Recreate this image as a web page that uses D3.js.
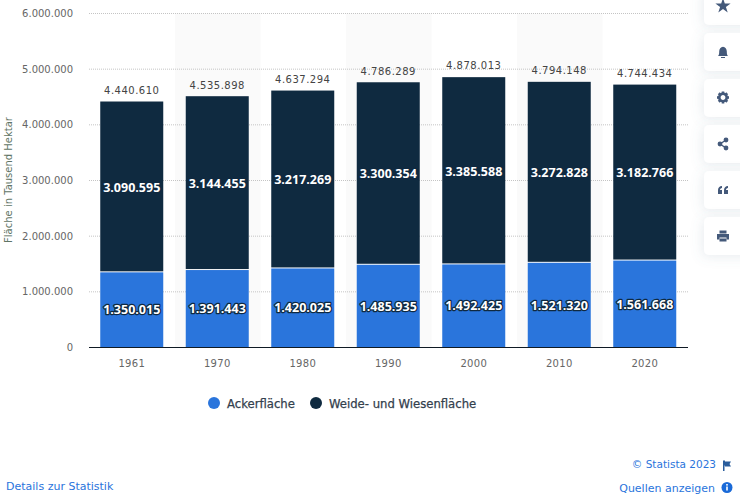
<!doctype html>
<html>
<head>
<meta charset="utf-8">
<title>Ackerfläche und Weidefläche</title>
<script src="https://d3js.org/d3.v7.min.js"></script>
<style>
  body { margin: 0; background: #fff; font-family: "DejaVu Sans", sans-serif; }
  svg { display: block; }
  .tick-label { font-size: 10px; fill: #666; }
  .total { font-size: 10px; fill: #444; letter-spacing: .5px; text-anchor: middle; }
  .inner { font-family: "Open Sans", sans-serif; font-size: 12.5px; font-weight: 700; fill: #fff; text-anchor: middle; paint-order: stroke; stroke: #0f2940; stroke-width: 2.5px; stroke-linejoin: round; }
  .legend { font-size: 11.65px; fill: #33404d; stroke: #33404d; stroke-width: .25px; }
  .link { font-size: 11px; fill: #2a74dc; }
</style>
</head>
<body>
<div id="chart"></div>
<script>
const years = ["1961", "1970", "1980", "1990", "2000", "2010", "2020"];
const acker = [1350015, 1391443, 1420025, 1485935, 1492425, 1521320, 1561668];
const weide = [3090595, 3144455, 3217269, 3300354, 3385588, 3272828, 3182766];
const totals = [4440610, 4535898, 4637294, 4786289, 4878013, 4794148, 4744434];
const yTicks = [0, 1000000, 2000000, 3000000, 4000000, 5000000, 6000000];
const legendItems = ["Ackerfläche", "Weide- und Wiesenfläche"];

const blue = "#2a75dc", navy = "#0f2a40";
const fmt = v => d3.format(",")(v).replace(/,/g, ".");

const svg = d3.select("#chart").append("svg").attr("width", 740).attr("height", 501);

const x = d3.scaleBand().domain(years).range([89.5, 688]);
const y = d3.scaleLinear().domain([0, 6000000]).range([347.5, 13.5]);
const barW = 63;
const barX = d => x(d) + (x.bandwidth() - barW) / 2 - 0.5;

// alternating background stripes
svg.selectAll("rect.stripe").data(years.filter((d, i) => i % 2 == 1)).enter().append("rect")
  .attr("class", "stripe")
  .attr("x", d => x(d)).attr("width", x.bandwidth())
  .attr("y", y(6000000)).attr("height", y(0) - y(6000000))
  .attr("fill", "#fafafa");

// grid
svg.selectAll("line.grid").data(yTicks.slice(1)).enter().append("line")
  .attr("class", "grid")
  .attr("x1", 89).attr("x2", 688)
  .attr("y1", d => y(d)).attr("y2", d => y(d))
  .attr("stroke", "#c4c4c4").attr("stroke-dasharray", "1 1");

svg.selectAll("text.ylab").data(yTicks).enter().append("text")
  .attr("class", "tick-label ylab")
  .attr("x", 73).attr("y", d => y(d) + 0.5)
  .attr("dominant-baseline", "middle").attr("text-anchor", "end")
  .text(fmt);

svg.append("text").attr("class", "tick-label")
  .attr("transform", "translate(12,180) rotate(-90)")
  .attr("text-anchor", "middle")
  .style("fill", "#5f7566")
  .text("Fläche in Tausend Hektar");

// bars, the navy part starts a bit under its value like the white border in the original
svg.selectAll("rect.weide").data(years).enter().append("rect")
  .attr("class", "weide")
  .attr("x", barX).attr("width", barW)
  .attr("y", (d, i) => y(acker[i] + weide[i]) + 1.2)
  .attr("height", (d, i) => y(acker[i]) - y(acker[i] + weide[i]) - 2.2)
  .attr("fill", navy);
svg.selectAll("rect.acker").data(years).enter().append("rect")
  .attr("class", "acker")
  .attr("x", barX).attr("width", barW)
  .attr("y", (d, i) => y(acker[i]))
  .attr("height", (d, i) => y(0) - y(acker[i]))
  .attr("fill", blue);

// baseline
svg.append("line").attr("x1", 89).attr("x2", 688)
  .attr("y1", y(0)).attr("y2", y(0))
  .attr("stroke", "#0f1a24").attr("stroke-width", 1);

svg.selectAll("text.xlab").data(years).enter().append("text")
  .attr("class", "tick-label xlab")
  .attr("x", d => barX(d) + barW / 2).attr("y", 367)
  .attr("text-anchor", "middle")
  .style("letter-spacing", ".3px")
  .text(d => d);

// data labels
svg.selectAll("text.total").data(years).enter().append("text")
  .attr("class", "total")
  .attr("x", d => barX(d) + barW / 2)
  .attr("y", (d, i) => y(totals[i]) - 6.5)
  .text((d, i) => fmt(totals[i]));
svg.selectAll("text.lw").data(years).enter().append("text")
  .attr("class", "inner lw")
  .attr("x", d => barX(d) + barW / 2)
  .attr("y", (d, i) => (y(acker[i]) + y(acker[i] + weide[i])) / 2 + 5.5)
  .text((d, i) => fmt(weide[i]));
svg.selectAll("text.la").data(years).enter().append("text")
  .attr("class", "inner la")
  .attr("x", d => barX(d) + barW / 2)
  .attr("y", (d, i) => (y(0) + y(acker[i])) / 2 + 4.5)
  .text((d, i) => fmt(acker[i]));

// legend
const legendX = [214, 316], legendColors = [blue, navy];
legendItems.forEach((t, i) => {
  svg.append("circle").attr("cx", legendX[i]).attr("cy", 403).attr("r", 6).attr("fill", legendColors[i]);
  svg.append("text").attr("class", "legend").attr("x", legendX[i] + 13).attr("y", 407.5).text(t);
});

// footer
svg.append("text").attr("class", "link").style("font-size", "10.5px").attr("x", 716).attr("y", 467.5).attr("text-anchor", "end").text("© Statista 2023");
svg.append("path").attr("d", "M723 460.5h2v1h6l-1.5 2.5 1.5 2.5h-6v-1h-.5v5.5h-1.5z").attr("fill", "#2a5d9c");
svg.append("text").attr("class", "link").attr("x", 715).attr("y", 491.5).attr("text-anchor", "end").text("Quellen anzeigen");
svg.append("circle").attr("cx", 727).attr("cy", 487.5).attr("r", 5.5).attr("fill", "#1a6ad8");
svg.append("rect").attr("x", 726.2).attr("y", 486.5).attr("width", 1.6).attr("height", 4).attr("fill", "#fff");
svg.append("rect").attr("x", 726.2).attr("y", 484).attr("width", 1.6).attr("height", 1.6).attr("fill", "#fff");
svg.append("text").attr("class", "link").attr("x", 6).attr("y", 489.5).text("Details zur Statistik");

// side buttons
const defs = svg.append("defs");
const shadow = defs.append("filter").attr("id", "btn").attr("x", "-50%").attr("y", "-50%").attr("width", "200%").attr("height", "200%");
shadow.append("feDropShadow").attr("dx", -2).attr("dy", 2).attr("stdDeviation", 6).attr("flood-color", "#6b7f99").attr("flood-opacity", .14);
const btnY = [-13, 33, 79, 125, 171, 217];
const iconColor = "#44597a";
svg.selectAll("rect.btn").data(btnY).enter().append("rect")
  .attr("class", "btn")
  .attr("x", 704).attr("y", d => d).attr("width", 60).attr("height", 38).attr("rx", 5)
  .attr("fill", "#fff").attr("filter", "url(#btn)");

const g = (cy) => svg.append("g").attr("transform", `translate(723,${cy})`).attr("fill", iconColor);
// star
g(6).append("path").attr("d", d3.symbol(d3.symbolStar, 72)());
// bell
const bell = g(51.5);
bell.append("path").attr("d", "M-5 4.5c1-1 1.2-2.5 1.2-4.5 0-2.5 1.5-4.8 3.8-4.8s3.8 2.3 3.8 4.8c0 2 .2 3.5 1.2 4.5z");
bell.append("rect").attr("x", -2).attr("y", 5.5).attr("width", 4).attr("height", 1);
// gear
const gear = g(97.5);
gear.append("circle").attr("r", 3.7).attr("fill", "none").attr("stroke", iconColor).attr("stroke-width", 2.6);
gear.selectAll("rect").data(d3.range(0, 360, 45)).enter().append("rect")
  .attr("x", -1.3).attr("y", -6).attr("width", 2.6).attr("height", 2.5)
  .attr("transform", d => `rotate(${d})`);
// share
const share = g(144);
share.append("path").attr("d", "M3 -4L-3 0L3 4").attr("fill", "none").attr("stroke", iconColor).attr("stroke-width", 1.4);
[[3, -4], [-3, 0], [3, 4]].forEach(p => share.append("circle").attr("cx", p[0]).attr("cy", p[1]).attr("r", 2.4));
// quote
const quote = g(190);
quote.append("path").attr("d", "M-5 4h4v-4h-2c0-1 .6-1.8 2-2v-2c-2.5 .2-4 1.6-4 4z");
quote.append("path").attr("d", "M1 4h4v-4h-2c0-1 .6-1.8 2-2v-2c-2.5 .2-4 1.6-4 4z");
// print
const print = g(236);
print.append("path").attr("d", "M-3.5 -5.5h7v3h-7z");
print.append("path").attr("d", "M-6 -2h12v5.5h-2.5v-2h-7v2h-2.5z");
print.append("rect").attr("x", -3.5).attr("y", 2.5).attr("width", 7).attr("height", 3);
</script>
</body>
</html>
